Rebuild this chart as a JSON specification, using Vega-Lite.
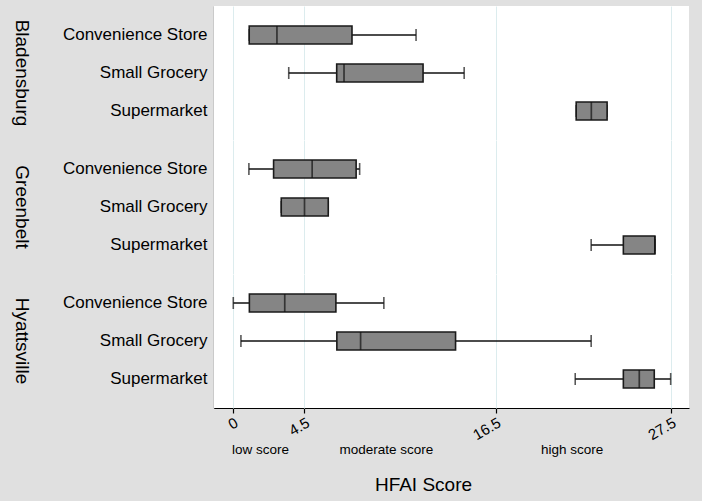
{
  "$schema": "https://vega.github.io/schema/vega-lite/v6.json",
  "background": "#e0e0e0",
  "padding": {"left": 12, "top": 6, "right": 14, "bottom": 8},
  "config": {
    "font": "Liberation Sans",
    "view": {"fill": "white", "stroke": null},
    "concat": {"spacing": 0}
  },
  "vconcat": [
    {
      "data": {
        "values": [
          {"city": "Bladensburg", "store": "Convenience Store", "min": 1.04, "q1": 1.04, "median": 2.78, "q3": 7.49, "max": 11.51},
          {"city": "Bladensburg", "store": "Small Grocery", "min": 3.52, "q1": 6.53, "median": 6.99, "q3": 11.95, "max": 14.53},
          {"city": "Bladensburg", "store": "Supermarket", "min": 21.56, "q1": 21.56, "median": 22.51, "q3": 23.5, "max": 23.5},
          {"city": "Greenbelt", "store": "Convenience Store", "min": 1.02, "q1": 2.57, "median": 4.99, "q3": 7.75, "max": 7.97},
          {"city": "Greenbelt", "store": "Small Grocery", "min": 3.05, "q1": 3.05, "median": 4.51, "q3": 6.0, "max": 6.0},
          {"city": "Greenbelt", "store": "Supermarket", "min": 22.5, "q1": 24.52, "median": 26.5, "q3": 26.5, "max": 26.5},
          {"city": "Hyattsville", "store": "Convenience Store", "min": 0.04, "q1": 1.05, "median": 3.27, "q3": 6.48, "max": 9.49},
          {"city": "Hyattsville", "store": "Small Grocery", "min": 0.52, "q1": 6.54, "median": 8.03, "q3": 13.99, "max": 22.5},
          {"city": "Hyattsville", "store": "Supermarket", "min": 21.5, "q1": 24.52, "median": 25.52, "q3": 26.46, "max": 27.49}
        ]
      },
      "facet": {
        "row": {
          "field": "city",
          "type": "nominal",
          "header": {
            "title": null,
            "labelAngle": 90,
            "labelOrient": "left",
            "labelFontSize": 19,
            "labelFont": "Liberation Sans",
            "labelColor": "black",
            "labelPadding": 12
          }
        }
      },
      "spacing": {"row": 0},
      "spec": {
        "width": 475,
        "height": 134,
        "encoding": {
          "y": {
            "field": "store",
            "type": "nominal",
            "scale": {"paddingInner": 0, "paddingOuter": 0.263},
            "axis": {
              "title": null,
              "domain": true,
              "domainColor": "black",
              "domainWidth": 1.2,
              "ticks": false,
              "grid": false,
              "labelFontSize": 17,
              "labelColor": "black",
              "labelPadding": 7
            }
          }
        },
        "layer": [
          {
            "mark": {"type": "rule", "color": "#111111", "strokeWidth": 1.6},
            "encoding": {
              "x": {
                "field": "min",
                "type": "quantitative",
                "scale": {"domain": [-1.17, 28.64], "nice": false, "zero": false},
                "axis": {
                  "title": null,
                  "values": [0, 4.5, 16.5, 27.5],
                  "format": ".1~f",
                  "grid": true,
                  "gridColor": "#dcecee",
                  "gridWidth": 1,
                  "domainColor": "black",
                  "domainWidth": 1.2,
                  "tickColor": "black",
                  "tickSize": 5,
                  "tickWidth": 1.2,
                  "labelAngle": -30,
                  "labelAlign": "right",
                  "labelBaseline": "top",
                  "labelFontSize": 15,
                  "labelColor": "black",
                  "labelPadding": 2
                }
              },
              "x2": {"field": "max"}
            }
          },
          {
            "mark": {"type": "tick", "color": "#111111", "size": 12, "thickness": 1.6},
            "encoding": {"x": {"field": "min", "type": "quantitative"}}
          },
          {
            "mark": {"type": "tick", "color": "#111111", "size": 12, "thickness": 1.6},
            "encoding": {"x": {"field": "max", "type": "quantitative"}}
          },
          {
            "mark": {"type": "bar", "size": 18, "fill": "#858585", "stroke": "#1a1a1a", "strokeWidth": 1.6},
            "encoding": {
              "x": {"field": "q1", "type": "quantitative"},
              "x2": {"field": "q3"}
            }
          },
          {
            "mark": {"type": "tick", "color": "#111111", "size": 18, "thickness": 1.7},
            "encoding": {"x": {"field": "median", "type": "quantitative"}}
          }
        ]
      }
    },
    {
      "width": 475,
      "height": 14,
      "view": {"fill": null, "stroke": null},
      "data": {
        "values": [
          {"label": "low score", "score": 1.75},
          {"label": "moderate score", "score": 9.65},
          {"label": "high score", "score": 21.3}
        ]
      },
      "mark": {"type": "text", "fontSize": 13.5, "color": "black", "baseline": "middle"},
      "encoding": {
        "x": {
          "field": "score",
          "type": "quantitative",
          "scale": {"domain": [-1.17, 28.64], "nice": false, "zero": false},
          "axis": {
            "title": "HFAI Score",
            "domain": false,
            "ticks": false,
            "labels": false,
            "grid": false,
            "titleFontSize": 19,
            "titleFontWeight": "normal",
            "titleColor": "black",
            "titlePadding": 18,
            "titleX": 209
          }
        },
        "text": {"field": "label"}
      }
    }
  ]
}
